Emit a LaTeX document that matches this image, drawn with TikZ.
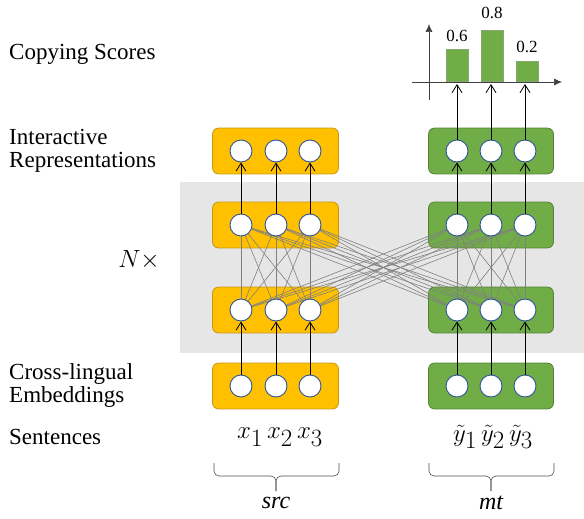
\documentclass[tikz,border=0pt]{standalone}
\usepackage{fontspec}
\setmainfont{Liberation Serif}
\usepackage{tikz}
\usetikzlibrary{arrows.meta,positioning,fit}
\definecolor{cpyellow}{RGB}{255,192,0}
\definecolor{cpyellowd}{RGB}{196,150,20}
\definecolor{cpgreen}{RGB}{112,173,71}
\definecolor{cpgreend}{RGB}{84,130,53}
\definecolor{cpblue}{RGB}{47,85,151}
\definecolor{cpgray}{RGB}{230,230,230}
\definecolor{cplink}{RGB}{128,128,128}
\pgfdeclarelayer{back}
\pgfdeclarelayer{mid}
\pgfsetlayers{back,mid,main}

\begin{document}
\begin{tikzpicture}[x=1pt, y=-1pt,
  unit/.style={circle, draw=cpblue, line width=0.9pt, fill=white,
               minimum size=22pt, inner sep=0pt},
  srcbox/.style={rectangle, rounded corners=6pt, draw=cpyellowd, line width=0.8pt,
                 fill=cpyellow, inner xsep=17pt, inner ysep=11.5pt},
  mtbox/.style={rectangle, rounded corners=6pt, draw=cpgreend, line width=0.8pt,
                fill=cpgreen, inner xsep=17pt, inner ysep=11.5pt},
  bar/.style={rectangle, draw=cpgreend!70, line width=0.6pt, fill=cpgreen,
              minimum width=22pt, inner sep=0pt},
  link/.style={cplink, line width=0.6pt},
  flow/.style={-{Straight Barb[length=8pt,width=10pt]}, line width=0.8pt, black},
  axis/.style={-{Latex[length=8pt,width=7pt]}, line width=0.7pt, black!75},
  lbl/.style={font=\fontsize{23}{23}\selectfont, anchor=west, align=left, inner sep=0pt},
  score/.style={font=\fontsize{17}{17}\selectfont, inner sep=0pt, anchor=base},
  tok/.style={font=\fontsize{36}{36}\selectfont, inner sep=0pt},
  side/.style={font=\fontsize{24}{24}\selectfont\itshape, inner sep=0pt},
  brc/.style={line width=0.6pt, black!70, rounded corners=5pt}]

\useasboundingbox (0,0) rectangle (584,519);

\foreach \r/\y in {1/151,2/225,3/310,4/386} {
  \foreach \i/\x in {1/241,2/276,3/310}
    \node[unit] (s\r\i) at (\x,\y) {};
  \foreach \i/\x in {1/457,2/491,3/525}
    \node[unit] (m\r\i) at (\x,\y) {};
}

\begin{pgfonlayer}{back}
\fill[cpgray] (180,182) rectangle (584,353);
\foreach \r in {1,...,4} {
  \node[srcbox, fit=(s\r1)(s\r3)] (sb\r) {};
  \node[mtbox, fit=(m\r1)(m\r3)] (mb\r) {};
}
\end{pgfonlayer}

\begin{pgfonlayer}{mid}
\foreach \i in {1,2,3} {
  \foreach \j in {1,2,3} {
    \draw[link] (s3\i.center) -- (s2\j.center);
    \draw[link] (s3\i.center) -- (m2\j.center);
    \draw[link] (m3\i.center) -- (m2\j.center);
    \draw[link] (m3\i.center) -- (s2\j.center);
  }
}
\end{pgfonlayer}

\coordinate (origin) at (429,82);
\draw[axis] (origin) ++(0,18) -- ++(0,-76);
\draw[axis] (origin) ++(-17,0) -- ++(150,0);

\node[bar, minimum height=32pt, anchor=south] (bar1) at (457,82) {};
\node[bar, minimum height=51pt, anchor=south] (bar2) at (492,82) {};
\node[bar, minimum height=20pt, anchor=south] (bar3) at (527,82) {};
\node[score] (v1) at ([yshift=8pt]bar1.north) {0.6};
\node[score] (v2) at ([yshift=12pt]bar2.north) {0.8};
\node[score] (v3) at ([yshift=9pt]bar3.north) {0.2};

\foreach \i in {1,2,3} {
  \draw[flow] (s4\i) -- (s3\i);
  \draw[flow] (s2\i) -- (s1\i);
  \draw[flow] (m4\i) -- (m3\i);
  \draw[flow] (m2\i) -- (m1\i);
  \draw[flow, shorten >=2pt] (m1\i) -- (m1\i |- bar\i.south);
}

\node[lbl] (lscore) at (9,54) {Copying Scores};
\node[lbl] (lrep) at (9,151) {Interactive\\Representations};
\node[font=\fontsize{23}{23}\selectfont] (lnum) at (139,260) {$N\times$};
\node[lbl] (lemb) at (9,385) {Cross-lingual\\Embeddings};
\node[lbl] (lsent) at (9,437) {Sentences};

\node[tok] (xsrc) at (280,437) {$x_1\,x_2\,x_3$};
\node[tok] (ymt) at (493,437) {$\tilde{y}_1\,\tilde{y}_2\,\tilde{y}_3$};

\draw[brc] (214,463) -- (214,476) -- (276,476) -- (276,491);
\draw[brc] (339,463) -- (339,476) -- (276,476) -- (276,491);
\draw[brc] (429,463) -- (429,476) -- (491,476) -- (491,491);
\draw[brc] (554,463) -- (554,476) -- (491,476) -- (491,491);
\node[side] (lsrc) at (276,503) {src};
\node[side] (lmt) at (491,503) {mt};
\end{tikzpicture}
\end{document}
